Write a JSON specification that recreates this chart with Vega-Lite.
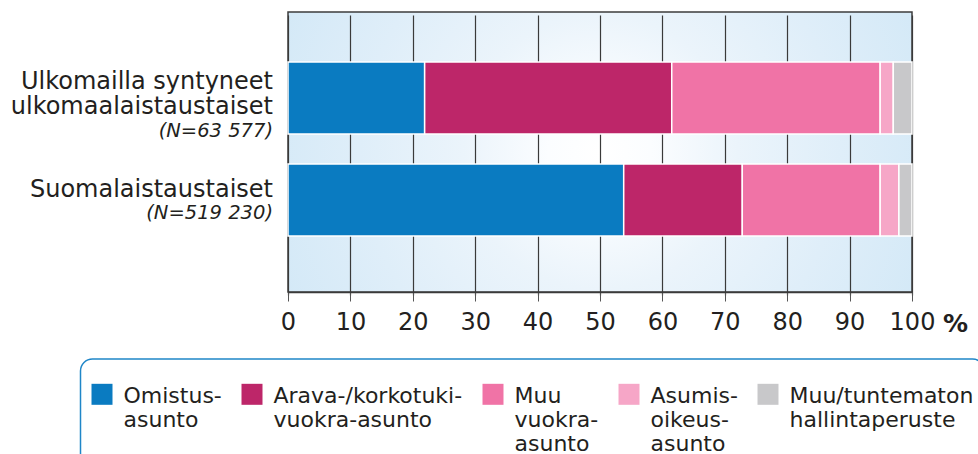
{
  "$schema": "https://vega.github.io/schema/vega-lite/v6.json",
  "width": 624,
  "height": 280,
  "autosize": {"type": "none"},
  "padding": {"left": 288, "top": 12, "right": 66, "bottom": 162},
  "background": "white",
  "datasets": {
    "bars": [
      {"group": "Ulkomailla syntyneet ulkomaalaistaustaiset", "tenure": "Omistus-\nasunto", "k": 1, "value": 21.9},
      {"group": "Ulkomailla syntyneet ulkomaalaistaustaiset", "tenure": "Arava-/korkotuki-\nvuokra-asunto", "k": 2, "value": 39.6},
      {"group": "Ulkomailla syntyneet ulkomaalaistaustaiset", "tenure": "Muu\nvuokra-\nasunto", "k": 3, "value": 33.4},
      {"group": "Ulkomailla syntyneet ulkomaalaistaustaiset", "tenure": "Asumis-\noikeus-\nasunto", "k": 4, "value": 2.1},
      {"group": "Ulkomailla syntyneet ulkomaalaistaustaiset", "tenure": "Muu/tuntematon\nhallintaperuste", "k": 5, "value": 3.0},
      {"group": "Suomalaistaustaiset", "tenure": "Omistus-\nasunto", "k": 1, "value": 53.8},
      {"group": "Suomalaistaustaiset", "tenure": "Arava-/korkotuki-\nvuokra-asunto", "k": 2, "value": 19.0},
      {"group": "Suomalaistaustaiset", "tenure": "Muu\nvuokra-\nasunto", "k": 3, "value": 22.1},
      {"group": "Suomalaistaustaiset", "tenure": "Asumis-\noikeus-\nasunto", "k": 4, "value": 3.0},
      {"group": "Suomalaistaustaiset", "tenure": "Muu/tuntematon\nhallintaperuste", "k": 5, "value": 2.1}
    ],
    "groups": [
      {"group": "Ulkomailla syntyneet ulkomaalaistaustaiset", "lines": ["Ulkomailla syntyneet", "ulkomaalaistaustaiset"], "n": "(N=63 577)"},
      {"group": "Suomalaistaustaiset", "lines": ["Suomalaistaustaiset"], "n": "(N=519 230)"}
    ]
  },
  "resolve": {"scale": {"yOffset": "independent"}},
  "layer": [
    {
      "data": {"name": "bars"},
      "mark": {"type": "bar", "stroke": "white", "strokeWidth": 1.5},
      "encoding": {
        "y": {
          "field": "group", "type": "nominal",
          "sort": ["Ulkomailla syntyneet ulkomaalaistaustaiset", "Suomalaistaustaiset"],
          "scale": {"paddingInner": 0.294, "paddingOuter": 0.52, "range": [-3, 277]},
          "axis": null
        },
        "x": {
          "field": "value", "type": "quantitative", "stack": "zero",
          "scale": {"domain": [0, 100], "nice": false},
          "axis": {
            "values": [0, 10, 20, 30, 40, 50, 60, 70, 80, 90, 100],
            "title": "%",
            "titleFontSize": 25,
            "titleFontWeight": "bold",
            "titleColor": "#231f20",
            "titleX": 667,
            "titleY": 19,
            "titleAlign": "center",
            "titleBaseline": "top",
            "labelFontSize": 24,
            "labelColor": "#231f20",
            "labelPadding": 9,
            "labelFlush": false,
            "labelOverlap": false,
            "tickSize": 9,
            "tickColor": "#555555",
            "tickWidth": 1,
            "domainColor": "#3a3a3a",
            "domainWidth": 1.5,
            "grid": true,
            "gridColor": "#3a3a3a",
            "gridWidth": 1.2
          }
        },
        "color": {
          "field": "tenure", "type": "nominal",
          "sort": ["Omistus-\nasunto", "Arava-/korkotuki-\nvuokra-asunto", "Muu\nvuokra-\nasunto", "Asumis-\noikeus-\nasunto", "Muu/tuntematon\nhallintaperuste"],
          "scale": {"range": ["#0a7bc1", "#bd2669", "#f073a6", "#f6a6c7", "#c8c8ca"]},
          "legend": {
            "title": " ",
            "orient": "none",
            "legendX": -207.5,
            "legendY": 347,
            "direction": "horizontal",
            "columns": 5,
            "labelExpr": "length(split(datum.label, '\\n')) < 3 ? split(datum.label + '\\n\u2800', '\\n') : split(datum.label, '\\n')"
          }
        },
        "order": {"field": "k", "type": "quantitative"}
      }
    },
    {
      "data": {"name": "groups"},
      "mark": {"type": "text", "align": "right", "baseline": "alphabetic", "dx": -15, "fontSize": 24, "lineHeight": 24.5, "color": "#231f20"},
      "encoding": {
        "y": {"field": "group", "type": "nominal", "sort": ["Ulkomailla syntyneet ulkomaalaistaustaiset", "Suomalaistaustaiset"], "axis": null},
        "yOffset": {"field": "group", "type": "nominal", "scale": {"type": "point", "domain": ["Ulkomailla syntyneet ulkomaalaistaustaiset", "Suomalaistaustaiset"], "range": [27.3, 33], "padding": 0}},
        "x": {"datum": 0},
        "text": {"field": "lines", "type": "nominal"}
      }
    },
    {
      "data": {"name": "groups"},
      "mark": {"type": "text", "align": "right", "baseline": "alphabetic", "dx": -15, "fontSize": 19.5, "fontStyle": "italic", "color": "#231f20"},
      "encoding": {
        "y": {"field": "group", "type": "nominal", "sort": ["Ulkomailla syntyneet ulkomaalaistaustaiset", "Suomalaistaustaiset"], "axis": null},
        "yOffset": {"field": "group", "type": "nominal", "scale": {"type": "point", "domain": ["Ulkomailla syntyneet ulkomaalaistaustaiset", "Suomalaistaustaiset"], "range": [74.5, 55.5], "padding": 0}},
        "x": {"datum": 0},
        "text": {"field": "n", "type": "nominal"}
      }
    }
  ],
  "config": {
    "font": "DejaVu Sans",
    "view": {
      "stroke": "#3d3d3d",
      "strokeWidth": 1.5,
      "fill": {
        "gradient": "radial",
        "x1": 0.5, "y1": 0.5, "r1": 0,
        "x2": 0.5, "y2": 0.5, "r2": 0.55,
        "stops": [
          {"offset": 0, "color": "#ffffff"},
          {"offset": 0.15, "color": "#fbfdff"},
          {"offset": 0.4, "color": "#ebf4fb"},
          {"offset": 0.7, "color": "#dfeef9"},
          {"offset": 1, "color": "#d4e9f7"}
        ]
      }
    },
    "legend": {
      "titleFontSize": 8,
      "titlePadding": 14,
      "padding": 10.5,
      "strokeColor": "#1f86c8",
      "strokeWidth": 1.5,
      "cornerRadius": 12,
      "fillColor": "white",
      "symbolType": "M-1,-1.78H1V0.22H-1Z",
      "symbolSize": 441,
      "symbolStrokeWidth": 0,
      "labelFontSize": 22,
      "labelColor": "#231f20",
      "labelBaseline": "alphabetic",
      "labelLineHeight": 22.5,
      "labelOffset": 10.5,
      "labelLimit": 400,
      "columnPadding": 19,
      "rowPadding": 0
    }
  }
}
